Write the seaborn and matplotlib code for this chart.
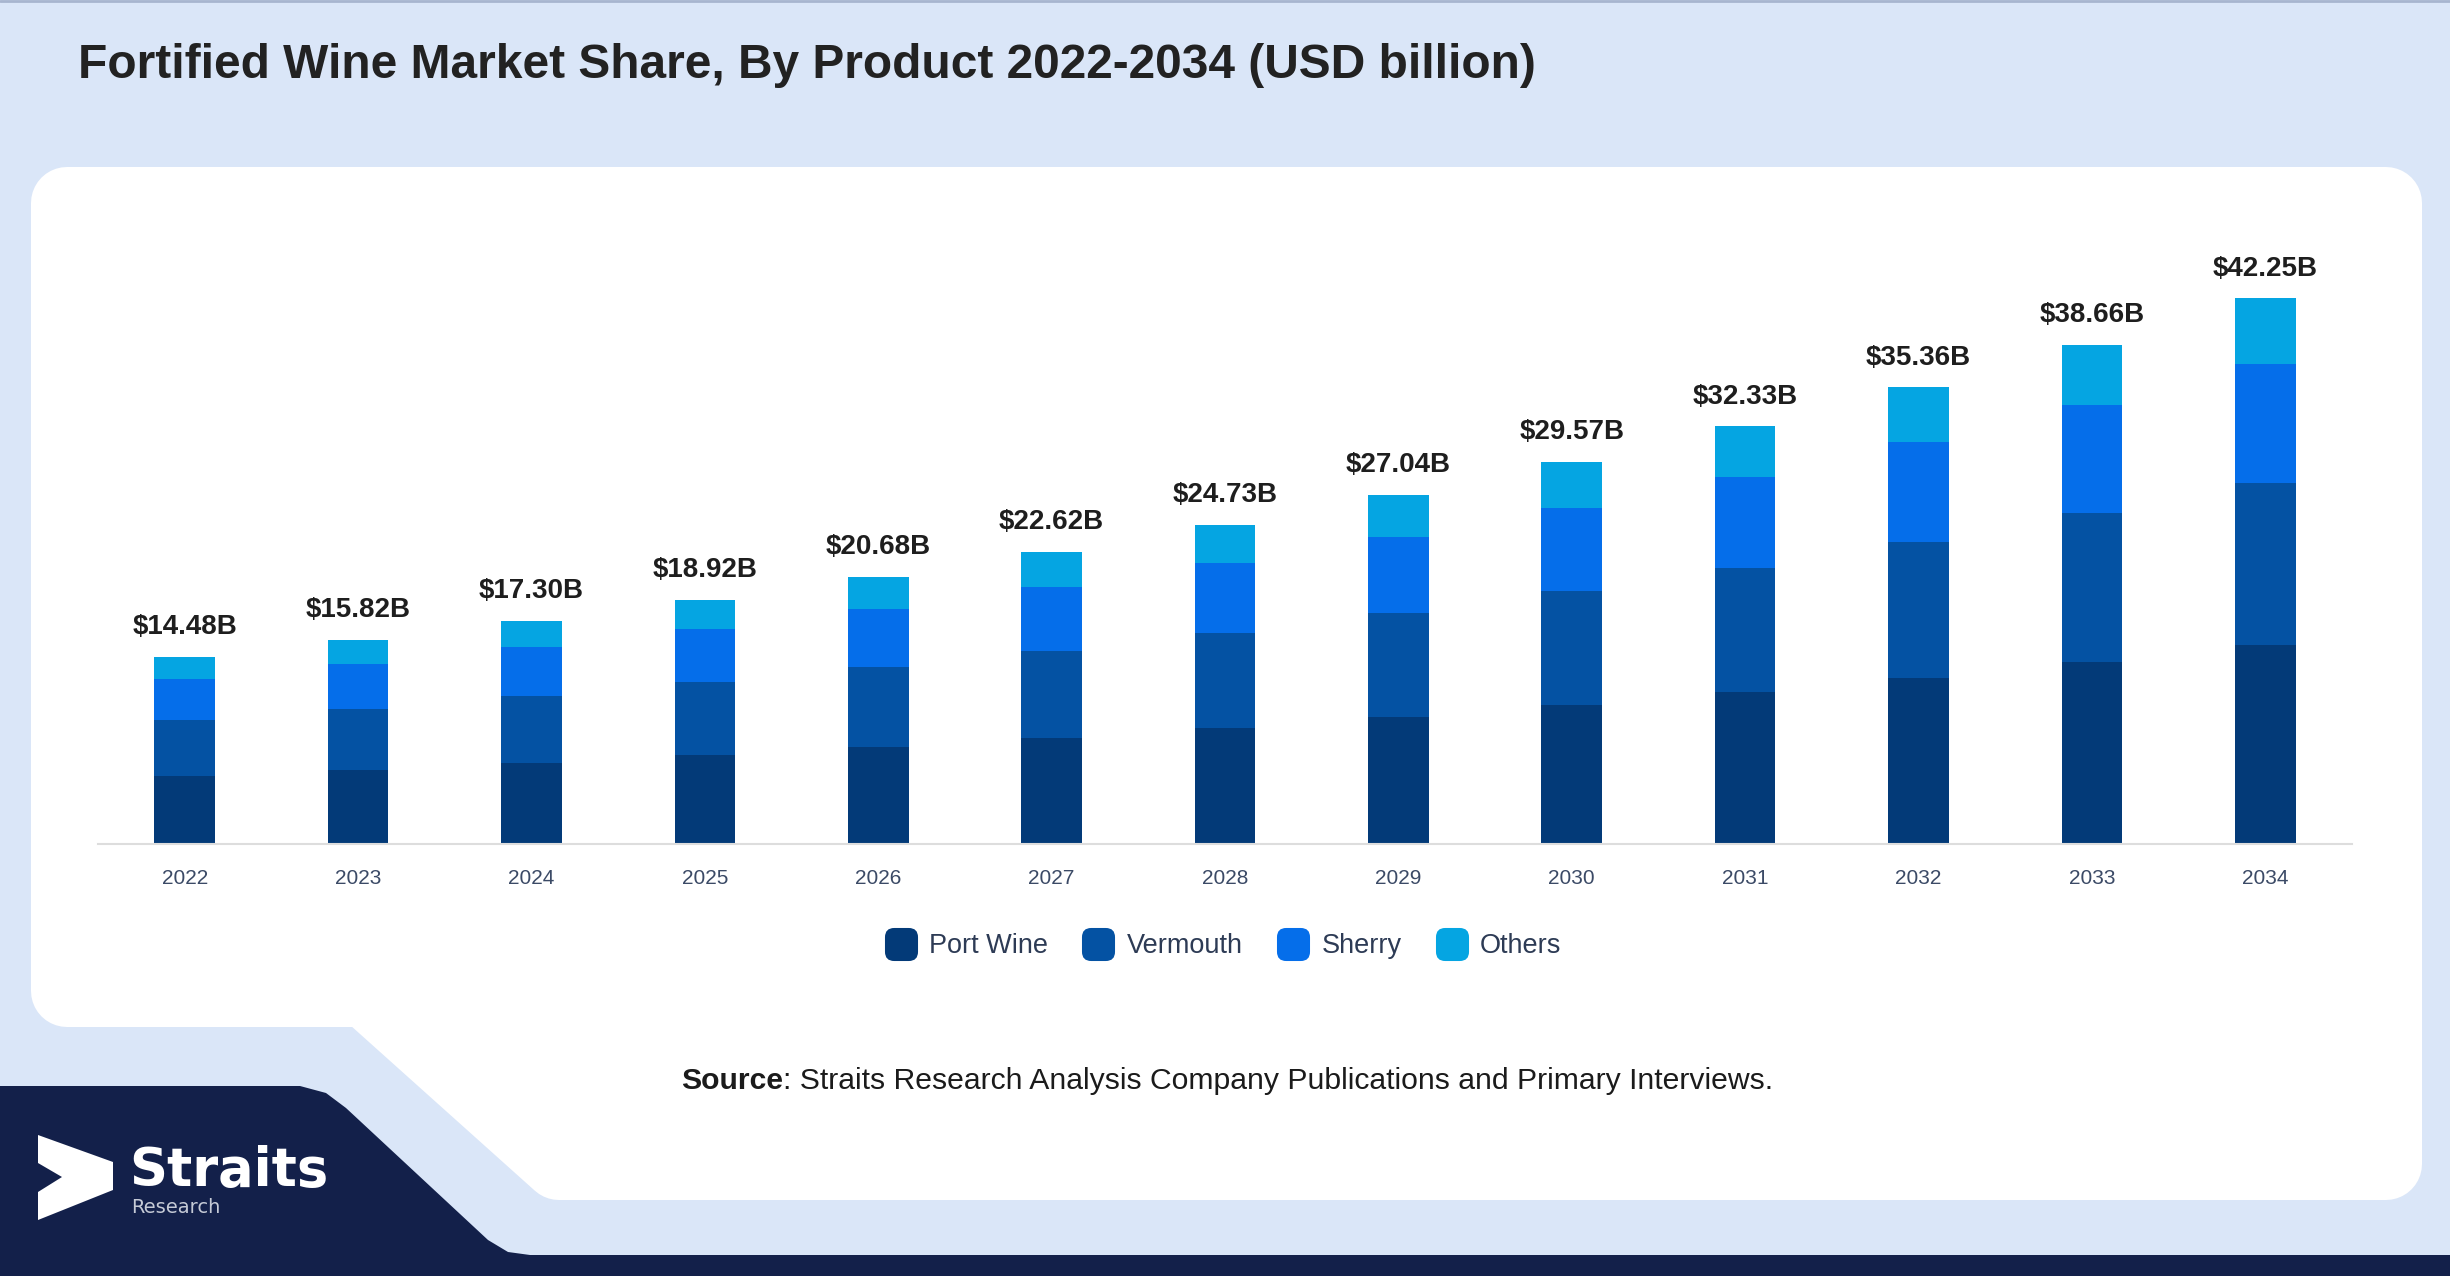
import numpy as np
import matplotlib
matplotlib.use("Agg")
import matplotlib.pyplot as plt
import seaborn as sns
from matplotlib.patches import Polygon, FancyBboxPatch
from matplotlib.lines import Line2D

# values (USD billion)
years = ["2022", "2023", "2024", "2025", "2026", "2027", "2028",
         "2029", "2030", "2031", "2032", "2033", "2034"]
port_wine = [5.27, 5.76, 6.30, 6.89, 7.53, 8.23, 9.00, 9.84, 10.76, 11.77, 12.87, 14.07, 15.38]
vermouth = [4.32, 4.71, 5.16, 5.64, 6.16, 6.74, 7.37, 8.06, 8.81, 9.63, 10.54, 11.52, 12.59]
sherry = [3.16, 3.45, 3.77, 4.12, 4.51, 4.93, 5.39, 5.89, 6.45, 7.05, 7.71, 8.43, 9.21]
others = [1.73, 1.90, 2.07, 2.27, 2.48, 2.72, 2.97, 3.25, 3.55, 3.88, 4.24, 4.64, 5.07]
segments = ["Port Wine", "Vermouth", "Sherry", "Others"]
colors = ["#033a78", "#0452a3", "#056eea", "#05a5e2"]

W, H = 2450, 1276

sns.set_theme(style="white")
plt.rcParams["font.family"] = ["Liberation Sans", "DejaVu Sans"]

fig = plt.figure(figsize=(W / 100, H / 100), dpi=100)
fig.patch.set_facecolor("#dae6f8")

# background layer drawn in pixel coordinates
bg = fig.add_axes([0, 0, 1, 1], zorder=0)
bg.set_xlim(0, W)
bg.set_ylim(H, 0)
bg.axis("off")

r = 36  # corner radius of the white card
card = [(67, 203), (2386, 203), (2386, 1164), (559, 1164), (366, 991), (67, 991)]
bg.add_patch(Polygon(card, closed=True, facecolor="white", edgecolor="white",
                     linewidth=2 * r * 72 / 100, joinstyle="round"))

navy = [(0, 1086), (300, 1086), (326, 1093), (346, 1108), (488, 1240), (508, 1252),
        (530, 1255), (W, 1255), (W, H), (0, H)]
bg.add_patch(Polygon(navy, closed=True, facecolor="#13204a", edgecolor="none"))
bg.plot([0, W], [1, 1], color="#a7b5cf", lw=2)

# logo
arrow = [(38, 1135), (113, 1162), (113, 1190), (38, 1220), (38, 1192), (62, 1177), (38, 1163)]
bg.add_patch(Polygon(arrow, closed=True, facecolor="white", edgecolor="none"))
bg.text(129, 1186, "Straits", fontsize=38, fontweight="bold", color="white",
        family="DejaVu Sans", va="baseline")
bg.text(131, 1213, "Research", fontsize=14, color="#c5cad6",
        family="DejaVu Sans", va="baseline")

# title and source
fig.text(78 / W, 1 - 66 / H, "Fortified Wine Market Share, By Product 2022-2034 (USD billion)",
         fontsize=34.5, fontweight="bold", color="#222222", va="center")
src = bg.text(681, 1081, "Source", fontsize=21.7, fontweight="bold", color="#1b1b1b", va="center")
bg.annotate(": Straits Research Analysis Company Publications and Primary Interviews.",
            xy=(1, 0), xycoords=src, va="bottom", ha="left", fontsize=21.7, color="#1b1b1b")

# main chart
ax = fig.add_axes([98 / W, 1 - 844 / H, (2352 - 98) / W, (844 - 224) / H], zorder=1)
ax.patch.set_alpha(0)

layers = np.array([port_wine, vermouth, sherry, others])
cum = np.cumsum(layers, axis=0)
totals = cum[-1]

# draw cumulative heights from the top layer down so they stack visually
for i in range(len(segments) - 1, -1, -1):
    sns.barplot(x=years, y=cum[i], color=colors[i], width=0.35, saturation=1,
                errorbar=None, linewidth=0, ax=ax)

ax.bar_label(ax.containers[0], labels=[f"${t:.2f}B" for t in totals], padding=12,
             fontsize=20, fontweight="bold", color="#1e1e1e")

ax.set_xlim(-0.5, len(years) - 0.5)
ax.set_ylim(0, 48)
ax.set_yticks([])
ax.set_xlabel("")
ax.set_ylabel("")
ax.tick_params(axis="x", length=0, pad=18, labelsize=15, labelcolor="#3b4a66")
for side in ["left", "top", "right"]:
    ax.spines[side].set_visible(False)
ax.spines["bottom"].set_color("#dddddd")
ax.spines["bottom"].set_linewidth(1.5)

# legend with rounded square swatches
box = FancyBboxPatch((-0.5, -0.5), 1, 1, boxstyle="round,pad=0,rounding_size=0.28")
swatch = box.get_path()
handles = [Line2D([], [], marker=swatch, linestyle="none", markersize=23.8,
                  markerfacecolor=c, markeredgecolor="none") for c in colors]
fig.legend(handles, segments, loc="center", bbox_to_anchor=(1223 / W, 1 - 946 / H),
           ncol=4, frameon=False, fontsize=19.5, handlelength=1.2, handletextpad=0.45,
           columnspacing=1.25, labelcolor="#2d3b55")

fig.savefig("out.png", dpi=100)
